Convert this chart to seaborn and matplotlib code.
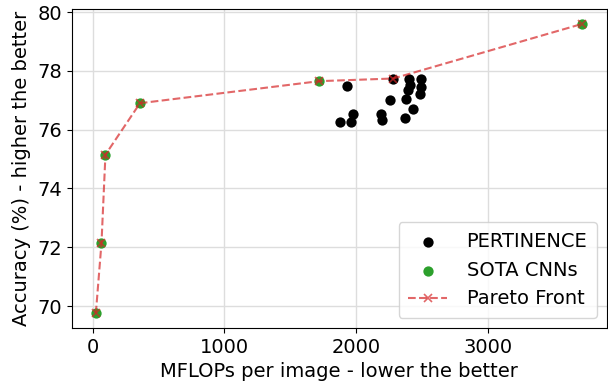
import matplotlib

matplotlib.use("Agg")
import matplotlib.pyplot as plt
import seaborn as sns

# PERTINENCE models (MFLOPs, top-1 accuracy)
pert_mflops = [1877, 1960, 1933, 1973, 2187, 2200, 2256, 2281, 2369, 2382,
               2394, 2399, 2407, 2432, 2483, 2495, 2495]
pert_acc = [76.26, 76.25, 77.49, 76.52, 76.53, 76.32, 77.00, 77.74, 76.38, 77.04,
            77.34, 77.72, 77.51, 76.72, 77.20, 77.46, 77.72]

# state-of-the-art CNNs
sota_mflops = [24, 67, 97, 359, 1720, 3718]
sota_acc = [69.75, 72.15, 75.15, 76.90, 77.65, 79.60]

# pareto front through both sets
pareto_mflops = [24, 67, 97, 359, 1720, 2281, 3718]
pareto_acc = [69.75, 72.15, 75.15, 76.90, 77.65, 77.74, 79.60]

sns.set_style("ticks")
plt.rcParams["font.family"] = ["DejaVu Sans"]
plt.rcParams["font.size"] = 14
for k in ["text.color", "axes.labelcolor", "xtick.color", "ytick.color", "axes.edgecolor"]:
    plt.rcParams[k] = "black"

fig, ax = plt.subplots(figsize=(6.08, 3.89), dpi=100)
fig.subplots_adjust(left=0.1176, right=0.998, top=0.976, bottom=0.157)

ax.grid(True, color="#dddddd", linewidth=1)
ax.set_axisbelow(True)

sns.scatterplot(x=pert_mflops, y=pert_acc, color="black", s=55, linewidth=0,
                label="PERTINENCE", ax=ax)
sns.scatterplot(x=sota_mflops, y=sota_acc, color="tab:green", s=55, linewidth=0,
                label="SOTA CNNs", ax=ax)
ax.plot(pareto_mflops, pareto_acc, color="tab:red", alpha=0.7, linestyle="--",
        marker="x", markersize=6, markeredgewidth=1.2, label="Pareto Front")

ax.set_xlabel("MFLOPs per image - lower the better", fontsize=14)
ax.set_ylabel("Accuracy (%) - higher the better", fontsize=14)
ax.tick_params(labelsize=14, color="black")
ax.set_xticks([0, 1000, 2000, 3000])
ax.set_yticks([70, 72, 74, 76, 78, 80])

ax.legend(loc="lower right", fontsize=14, borderpad=0.5, handletextpad=1.0)

fig.savefig("out.png", dpi=100)
